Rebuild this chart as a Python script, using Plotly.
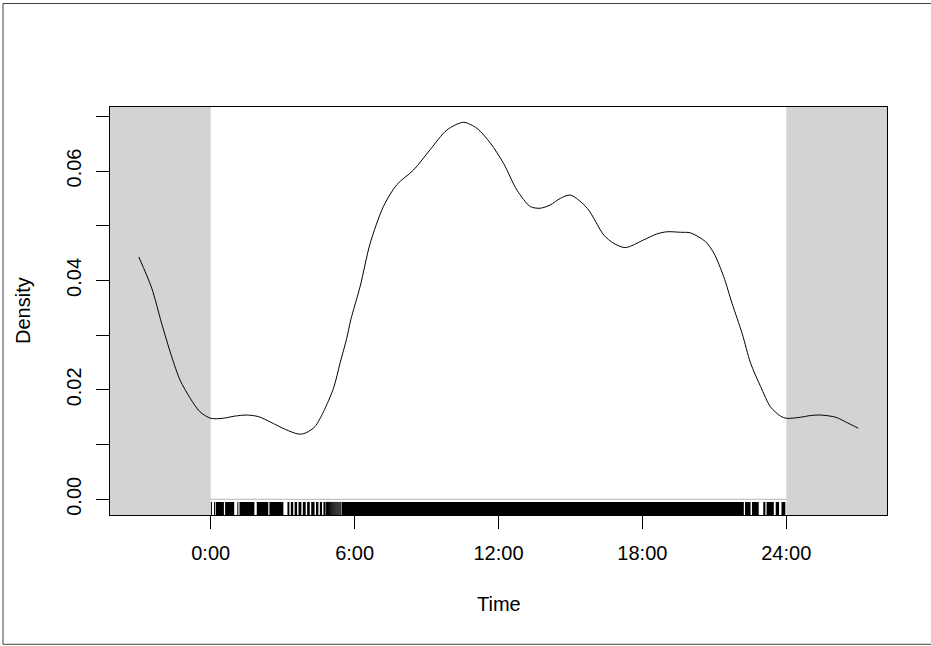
import plotly.graph_objects as go

# ---- density curve (hours, density) ----
time_h = [-3.0, -2.46, -2.05, -1.63, -1.28, -0.86, -0.45, 0.0, 0.5, 1.0, 1.5, 2.0, 2.5,
          3.0, 3.5, 3.75, 4.0, 4.35, 4.7, 5.12, 5.4, 5.67, 5.84, 6.23, 6.65, 7.2, 7.76,
          8.46, 9.15, 9.85, 10.54, 11.1, 11.66, 12.21, 12.77, 13.33, 13.74, 14.16, 14.58,
          15.0, 15.7, 16.39, 16.8, 17.29, 18.05, 18.6, 19.03, 19.59, 20.0, 20.63, 20.98,
          21.39, 21.74, 22.16, 22.51, 22.93, 23.34, 23.76, 24.0, 24.6, 25.0, 25.43, 26.06,
          26.54, 27.0]
density = [0.0443, 0.0386, 0.0322, 0.0261, 0.0218, 0.0185, 0.0160, 0.0148, 0.0148, 0.0152,
           0.0154, 0.0151, 0.0141, 0.0130, 0.0121, 0.0119, 0.0122, 0.0133, 0.0160, 0.0203,
           0.0250, 0.0294, 0.0328, 0.0389, 0.0468, 0.0535, 0.0575, 0.0602, 0.0639, 0.0675,
           0.0689, 0.0678, 0.0651, 0.0614, 0.0565, 0.0535, 0.0532, 0.0538, 0.0550, 0.0556,
           0.0532, 0.0483, 0.0468, 0.0460, 0.0474, 0.0485, 0.0489, 0.0488, 0.0487, 0.0471,
           0.0450, 0.0407, 0.0358, 0.0303, 0.0249, 0.0206, 0.0169, 0.0152, 0.0148, 0.0150,
           0.0153, 0.0154, 0.0150, 0.0140, 0.0130]

# ---- rug: isolated observation times and solid (dense) stretches ----
rug_ticks = [0.03, 0.16, 1.13, 4.83, 4.87, 4.91, 4.95, 4.99, 5.03, 5.07, 5.11, 5.15,
             5.19, 5.23, 5.27, 5.31, 5.35, 5.39, 5.43]
rug_blocks = [(0.21, 0.55), (0.60, 0.98), (1.20, 1.82), (1.92, 2.40), (2.45, 3.03),
              (3.20, 3.28), (3.34, 3.44), (3.50, 3.60), (3.66, 3.78), (3.84, 3.96),
              (4.02, 4.13), (4.19, 4.33), (4.39, 4.49), (4.55, 4.64), (4.70, 4.79),
              (5.47, 22.23), (22.28, 22.51), (22.57, 22.85), (23.04, 23.13),
              (23.18, 23.48), (23.56, 23.70), (23.80, 23.96)]

x_tick_vals = [0, 6, 12, 18, 24]
x_tick_text = ["0:00", "6:00", "12:00", "18:00", "24:00"]
y_tick_vals = [0.00, 0.01, 0.02, 0.03, 0.04, 0.05, 0.06, 0.07]
y_tick_text = ["0.00", "", "0.02", "", "0.04", "", "0.06", ""]

X_RANGE = [-4.2, 28.2]
Y_RANGE = [-0.00287, 0.0717]
RUG_H = 0.032
FONT = "Liberation Sans, Arial, sans-serif"

fig = go.Figure()

# zero reference line across the 0-24 h window
fig.add_trace(go.Scatter(x=[x_tick_vals[0], x_tick_vals[-1]], y=[0, 0], mode="lines",
                         line=dict(color="#b4b4b4", width=1), hoverinfo="skip",
                         showlegend=False))

# density curve
fig.add_trace(go.Scatter(x=time_h, y=density, mode="lines",
                         line=dict(color="black", width=1, shape="spline", smoothing=0.8),
                         showlegend=False))

# rug ticks
rx, ry = [], []
for t in rug_ticks:
    rx += [t, t, None]
    ry += [0, RUG_H, None]
fig.add_trace(go.Scatter(x=rx, y=ry, mode="lines", yaxis="y2",
                         line=dict(color="black", width=1), hoverinfo="skip",
                         showlegend=False))

# rug dense stretches
bx, by = [], []
for a, b in rug_blocks:
    bx += [a, b, b, a, a, None]
    by += [0, 0, RUG_H, RUG_H, 0, None]
fig.add_trace(go.Scatter(x=bx, y=by, mode="lines", yaxis="y2", fill="toself",
                         fillcolor="black", line=dict(color="black", width=0),
                         hoverinfo="skip", showlegend=False))

shapes = [
    dict(type="rect", xref="x", yref="y domain", x0=X_RANGE[0], x1=x_tick_vals[0],
         y0=0, y1=1, fillcolor="#d3d3d3", line=dict(width=0), layer="below"),
    dict(type="rect", xref="x", yref="y domain", x0=x_tick_vals[-1], x1=X_RANGE[1],
         y0=0, y1=1, fillcolor="#d3d3d3", line=dict(width=0), layer="below"),
    # outer figure frame (right side runs past the page edge, as in the reference)
    dict(type="rect", xref="paper", yref="paper", x0=-0.1377, x1=1.2, y0=-0.3169,
         y1=1.2537, line=dict(color="#404040", width=1), fillcolor="rgba(0,0,0,0)"),
]

fig.update_layout(
    width=931, height=646,
    margin=dict(l=110, r=44, t=107, b=131),
    paper_bgcolor="white", plot_bgcolor="white",
    font=dict(family=FONT, size=20, color="black"),
    shapes=shapes,
    xaxis=dict(range=X_RANGE, tickmode="array", tickvals=x_tick_vals, ticktext=x_tick_text,
               ticks="outside", ticklen=13, tickwidth=1, tickcolor="black",
               showline=True, linecolor="black", linewidth=1, mirror=True,
               showgrid=False, zeroline=False, ticklabelstandoff=7),
    yaxis=dict(range=Y_RANGE, tickmode="array", tickvals=y_tick_vals, ticktext=y_tick_text,
               ticks="outside", ticklen=13, tickwidth=1, tickcolor="black", tickangle=-90,
               showline=True, linecolor="black", linewidth=1, mirror=True,
               showgrid=False, zeroline=False, ticklabelstandoff=7),
    yaxis2=dict(range=[0, 1], overlaying="y", visible=False, fixedrange=True),
    annotations=[
        dict(text="Time", xref="paper", yref="paper", x=0.5, y=0, yshift=-89,
             showarrow=False, xanchor="center", yanchor="middle", font=dict(size=20)),
        dict(text="Density", xref="paper", yref="paper", x=0, y=0.5, xshift=-87,
             showarrow=False, xanchor="center", yanchor="middle", textangle=-90,
             font=dict(size=20)),
    ],
)

fig.write_html("out.html", config={"displayModeBar": False},
               post_script="document.body.style.margin='0px';"
                           "document.body.style.overflow='hidden';")
